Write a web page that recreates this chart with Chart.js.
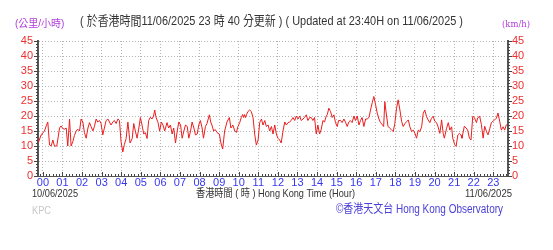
<!DOCTYPE html>
<html>
<head>
<meta charset="utf-8">
<script src="https://cdn.jsdelivr.net/npm/chart.js@4"></script>
<style>
  body { margin: 0; background: #fff; }
  #wrap { width: 553px; height: 250px; position: relative; }
</style>
</head>
<body>
<div id="wrap"><canvas id="windChart"></canvas></div>
<script>
// Hour labels on the time axis
const hourLabels = ['00', '01', '02', '03', '04', '05', '06', '07', '08', '09', '10', '11',
    '12', '13', '14', '15', '16', '17', '18', '19', '20', '21', '22', '23'];

// Time of each reading, hours after 00:00 on 11/06
const speedTimes = [
    -0.24, -0.09, -0.05, 0.08, 0.17, 0.25, 0.34, 0.42, 0.51, 0.59, 0.71, 0.85, 0.93,
    1.02, 1.1, 1.19, 1.27, 1.36, 1.44, 1.53, 1.61, 1.7, 1.78, 1.87, 1.95,
    2.04, 2.12, 2.21, 2.3, 2.38, 2.46, 2.55, 2.63, 2.72, 2.8, 2.89, 2.97,
    3.06, 3.14, 3.23, 3.32, 3.4, 3.48, 3.57, 3.65, 3.74, 3.83, 3.91, 3.99,
    4.08, 4.16, 4.25, 4.34, 4.45, 4.56, 4.64, 4.72, 4.81, 4.9, 4.98,
    5.06, 5.15, 5.23, 5.32, 5.4, 5.49, 5.57, 5.65, 5.71, 5.78, 5.88, 5.96,
    6.05, 6.13, 6.22, 6.34, 6.42, 6.51, 6.6, 6.68, 6.77, 6.86, 6.94,
    7.03, 7.11, 7.2, 7.28, 7.37, 7.45, 7.54, 7.62, 7.71, 7.79, 7.88, 7.96,
    8.04, 8.13, 8.2, 8.3, 8.38, 8.5, 8.57, 8.63, 8.72, 8.8, 8.89,
    9.01, 9.09, 9.18, 9.28, 9.4, 9.52, 9.6, 9.7, 9.8, 9.88, 9.96,
    10.05, 10.13, 10.2, 10.25, 10.3, 10.35, 10.4, 10.47, 10.56, 10.64, 10.73, 10.82, 10.9, 10.99,
    11.07, 11.16, 11.24, 11.33, 11.41, 11.5, 11.58, 11.67, 11.75, 11.84, 11.92,
    12.0, 12.09, 12.17, 12.26, 12.35, 12.43, 12.52, 12.6, 12.68, 12.77, 12.86, 12.94,
    13.03, 13.11, 13.19, 13.28, 13.36, 13.45, 13.53, 13.62, 13.7, 13.79, 13.87, 13.96,
    14.04, 14.13, 14.21, 14.3, 14.38, 14.47, 14.52, 14.6, 14.69, 14.77, 14.86, 14.94,
    15.03, 15.1, 15.2, 15.28, 15.37, 15.45, 15.54, 15.62, 15.7, 15.79, 15.88, 15.96,
    16.05, 16.14, 16.22, 16.3, 16.39, 16.48, 16.56, 16.65, 16.73, 16.82, 16.9, 16.99,
    17.07, 17.16, 17.24, 17.32, 17.4, 17.46, 17.53, 17.62, 17.7, 17.79, 17.89, 17.97,
    18.06, 18.14, 18.23, 18.32, 18.4, 18.49, 18.57, 18.66, 18.74, 18.83, 18.91,
    19.0, 19.08, 19.17, 19.25, 19.34, 19.42, 19.5, 19.59, 19.67, 19.76, 19.84, 19.93,
    20.01, 20.1, 20.18, 20.27, 20.36, 20.44, 20.5, 20.61, 20.7, 20.78, 20.87, 20.93,
    21.03, 21.1, 21.19, 21.27, 21.35, 21.4, 21.52, 21.61, 21.69, 21.78, 21.86, 21.95,
    22.03, 22.14, 22.2, 22.3, 22.39, 22.48, 22.56, 22.65, 22.73, 22.82, 22.9, 22.99,
    23.07, 23.16, 23.24, 23.33, 23.41, 23.5, 23.58, 23.67
];

// Wind speed (km/h) at each of those times
const speeds = [
    11, 13.7, 14, 15, 16.7, 18, 10.3, 10, 12, 10, 10, 16, 16.7,
    15.8, 15.6, 16, 10, 19, 10, 11.5, 13.5, 15, 15.6, 15, 19,
    18, 14.5, 12.6, 16, 17.8, 16.5, 15, 16.5, 19, 18, 18.5, 17.5,
    13.7, 16, 18.5, 19, 18, 17, 18, 18.5, 17.5, 19, 18.5, 11.5,
    8, 10.5, 12.5, 18, 11, 12.5, 17.5, 15, 12.6, 16, 19.5,
    17, 14, 14.5, 12.5, 18.5, 19.6, 19, 20, 22, 19.5, 17.8, 15,
    18, 17, 15, 17.8, 16, 17, 14, 16, 11, 15, 18,
    17, 12.6, 15, 17, 16.5, 12.6, 15, 18, 16, 13.7, 14, 17,
    18.5, 16, 12.6, 16.5, 17.5, 20.4, 18, 17, 15, 15.5, 14.5,
    14, 11, 9, 15, 18, 19.5, 16, 17, 15, 14.5, 16.5,
    17.8, 19.5, 20.5, 19.5, 20.5, 19.5, 20.5, 21.5, 22, 21.5, 19.5, 13.7, 10.3, 12,
    17.8, 19, 17, 18.5, 16.5, 17, 15, 16.5, 14, 17, 14,
    12.6, 12, 11, 15, 18, 17, 17.8, 18, 18.5, 19.5, 18.5, 20,
    19, 20, 18.5, 19, 19.5, 20.4, 18.5, 19.5, 19.5, 18.5, 19.5, 14,
    17, 14, 15.5, 18.5, 18, 20, 20.4, 22.6, 21.5, 19.5, 20.4, 17.8,
    16.5, 18.5, 18.5, 17.8, 19, 18, 16.5, 18, 18.5, 17.8, 20, 18.5,
    20, 17, 18.5, 19.5, 16.5, 19, 19, 19.5, 22, 24.5, 26.5, 23.7,
    21, 19, 17.8, 17.2, 16.5, 24.8, 21, 16.6, 16, 15.5, 14.8, 17.5,
    22.6, 25.4, 22, 18.1, 16.5, 17.5, 18.1, 18.7, 16.4, 14.8, 15.3,
    14.2, 12.6, 15.3, 14.8, 16.4, 20.9, 22, 19.8, 18.7, 17.8, 19.2, 19.9,
    18.3, 17.8, 16.4, 14.2, 18.7, 14.2, 12.6, 15.8, 17.8, 15.3, 16.4, 12.6,
    10.4, 9.9, 13.7, 14.2, 13.7, 12.6, 16.6, 16, 15.3, 12.6, 12, 19.9,
    19.5, 17.8, 19.3, 20, 17.2, 12.6, 16.6, 14.8, 13.7, 15.8, 17.8, 18.3,
    18.7, 19.3, 21, 18.1, 15.3, 16.4, 15.3, 17.2
];

const FONT = '"Liberation Sans", "Noto Sans CJK TC", sans-serif';

// Minor tick marks on the axes and all the loose texts
const decorPlugin = {
    id: 'decor',
    afterDraw(chart) {
        const ctx = chart.ctx;
        const a = chart.chartArea;
        const x = chart.scales.x;
        const y = chart.scales.y;
        ctx.save();
        ctx.strokeStyle = '#444';
        ctx.lineWidth = 1;
        ctx.beginPath();
        for (let v = 0; v <= 45; v++) {
            const py = Math.round(y.getPixelForValue(v)) + 0.5;
            const len = v % 5 === 0 ? 4 : 2;
            ctx.moveTo(a.left - len, py); ctx.lineTo(a.left, py);
            ctx.moveTo(a.right, py); ctx.lineTo(a.right + len, py);
        }
        for (let t = -0.25 + 1 / 12; t < 23.75; t += 1 / 6) {
            const px = Math.round(x.getPixelForValue(t)) + 0.5;
            ctx.moveTo(px, a.bottom); ctx.lineTo(px, a.bottom - 2);
        }
        hourLabels.forEach((_, i) => {
            const px = Math.round(x.getPixelForValue(i)) + 0.5;
            ctx.moveTo(px, a.bottom); ctx.lineTo(px, a.bottom - 4);
        });
        ctx.stroke();

        ctx.textBaseline = 'middle';
        ctx.textAlign = 'left';
        ctx.font = '10px ' + FONT;
        ctx.fillStyle = '#b03cd8';
        ctx.fillText('(公里/小時)', 15, 24, 50);
        ctx.font = '10px "DejaVu Serif", serif';
        ctx.fillText('(km/h)', 502, 24, 28);

        ctx.font = '13px ' + FONT;
        ctx.fillStyle = '#333';
        ctx.fillText('( 於香港時間11/06/2025 23 時 40 分更新 ) ( Updated at 23:40H on 11/06/2025 )', 80, 21, 383);

        ctx.font = '11px ' + FONT;
        ctx.fillText('10/06/2025', 32, 194, 46);
        ctx.fillText('香港時間 ( 時 ) Hong Kong Time (Hour)', 196, 194, 159);
        ctx.fillText('11/06/2025', 465, 194, 47);

        ctx.fillStyle = '#c8c8c8';
        ctx.fillText('KPC', 32, 211, 19);

        ctx.font = '12.5px ' + FONT;
        ctx.fillStyle = '#4a3fd6';
        ctx.fillText('©香港天文台 Hong Kong Observatory', 336, 210, 167);
        ctx.restore();
    }
};

const gridStyle = { color: '#b4b4b4', lineWidth: 1, drawTicks: false };

new Chart('windChart', {
    type: 'line',
    data: {
        datasets: [
            {
                label: 'KPC',
                data: speedTimes.map((t, i) => ({ x: t, y: speeds[i] })),
                borderColor: 'rgb(235, 30, 30)',
                borderWidth: 1,
                pointRadius: 0,
                tension: 0,
                fill: false,
                yAxisID: 'y',
            },
        ],
    },
    options: {
        responsive: true,
        maintainAspectRatio: false,
        animation: false,
        layout: { padding: { top: 41, left: 0, right: 0, bottom: 0 } },
        plugins: {
            legend: { display: false },
            tooltip: { enabled: false },
        },
        scales: {
            x: {
                type: 'linear',
                min: -0.25,
                max: 23.75,
                afterBuildTicks: (s) => { s.ticks = hourLabels.map((_, i) => ({ value: i })); },
                afterFit: (s) => { s.height = 74; },
                ticks: {
                    autoSkip: false,
                    maxRotation: 0,
                    padding: 0,
                    color: '#3636f0',
                    font: { size: 11, family: FONT },
                    callback: (v) => hourLabels[v],
                },
                grid: gridStyle,
                border: { display: true, color: '#555', width: 1, dash: [1, 2] },
            },
            y: {
                position: 'left',
                min: 0,
                max: 45,
                afterFit: (s) => { s.width = 38; },
                ticks: {
                    stepSize: 5,
                    autoSkip: false,
                    padding: 5,
                    color: '#ee3030',
                    font: { size: 11, family: FONT },
                },
                grid: gridStyle,
                border: { display: true, color: '#555', width: 2, dash: [1, 2] },
            },
            y2: {
                position: 'right',
                min: 0,
                max: 45,
                afterFit: (s) => { s.width = 45; },
                ticks: {
                    stepSize: 5,
                    autoSkip: false,
                    padding: 4,
                    color: '#ee3030',
                    font: { size: 11, family: FONT },
                },
                grid: { display: false, drawTicks: false },
                border: { display: true, color: '#555', width: 2 },
            },
        },
    },
    plugins: [decorPlugin],
});
</script>
</body>
</html>
